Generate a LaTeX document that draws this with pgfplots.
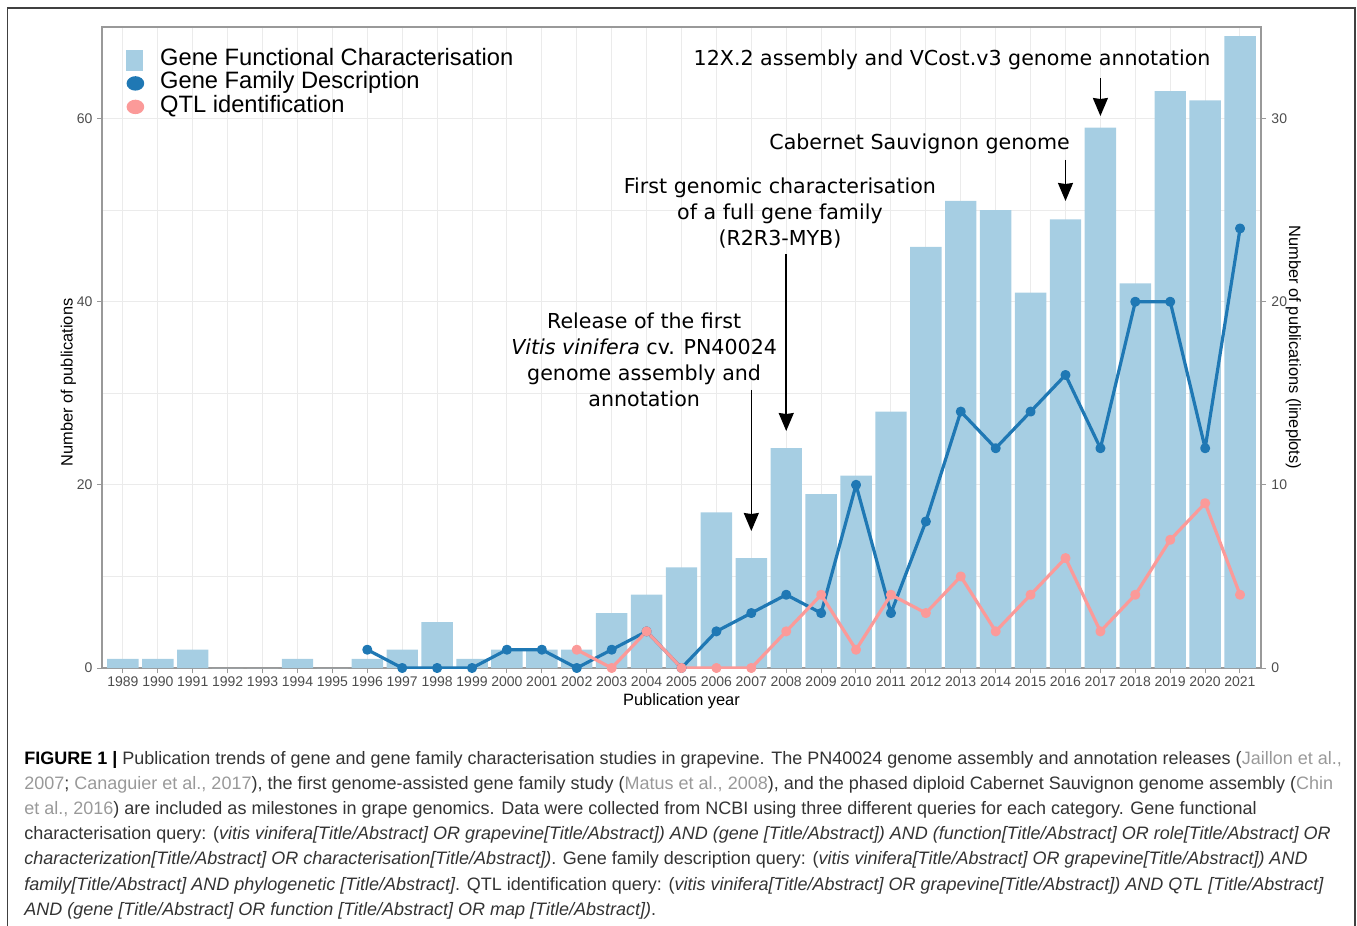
\documentclass[border=0pt]{standalone}
\usepackage{fontspec}
\setmainfont{Liberation Sans}
\newfontfamily\annfont{DejaVu Sans}
\usepackage{pgfplots}
\usepackage{pgfplotstable}
\pgfplotsset{compat=1.18}
\usetikzlibrary{arrows.meta}
\definecolor{barblue}{HTML}{A6CEE3}
\definecolor{lineblue}{HTML}{1F78B4}
\definecolor{linepink}{HTML}{FB9A99}
\definecolor{gridgray}{HTML}{EBEBEB}
\definecolor{ticktxt}{HTML}{4D4D4D}
\definecolor{axgray}{HTML}{999999}
\definecolor{capgray}{HTML}{333333}
\definecolor{citegray}{HTML}{999999}
\newcommand{\ct}[1]{\textcolor{citegray}{#1}}
\tikzset{
  anntext/.style={font=\annfont\fontsize{10.3}{13}\selectfont, align=center, inner sep=0pt},
  captxt/.style={anchor=base west, inner sep=0pt, font=\fontsize{9}{10}\selectfont, text=capgray},
  marr/.style={-{Stealth[length=9pt,width=7.5pt,inset=0.5pt]}, line width=0.8pt},
}

\pgfplotstableread{
year gfc
1989 1
1990 1
1991 2
1992 0
1993 0
1994 1
1995 0
1996 1
1997 2
1998 5
1999 1
2000 2
2001 2
2002 2
2003 6
2004 8
2005 11
2006 17
2007 12
2008 24
2009 19
2010 21
2011 28
2012 46
2013 51
2014 50
2015 41
2016 49
2017 59
2018 42
2019 63
2020 62
2021 69
}\barsdata

\pgfplotstableread{
year gfd
1996 1
1997 0
1998 0
1999 0
2000 1
2001 1
2002 0
2003 1
2004 2
2005 0
2006 2
2007 3
2008 4
2009 3
2010 10
2011 3
2012 8
2013 14
2014 12
2015 14
2016 16
2017 12
2018 20
2019 20
2020 12
2021 24
}\bluedata

\pgfplotstableread{
year qtl
2002 1
2003 0
2004 2
2005 0
2006 0
2007 0
2008 2
2009 4
2010 1
2011 4
2012 3
2013 5
2014 2
2015 4
2016 6
2017 2
2018 4
2019 7
2020 9
2021 4
}\pinkdata

\pgfplotsset{
  common/.style={
    at={(P)}, anchor=south west,
    width=579.5pt, height=320.5pt, scale only axis,
    xmin=1988.4, xmax=2021.6,
    tick align=outside, major tick length=2.5pt, minor tick length=0pt,
    tick style={axgray, line width=0.5pt},
    /pgf/number format/assume math mode=true,
    /pgf/number format/1000 sep={},
    tick label style={font=\fontsize{7}{8}\selectfont, text=ticktxt},
    label style={font=\fontsize{8.2}{9}\selectfont},
    axis line style={axgray, line width=0.6pt},
  }
}

\begin{document}
\begin{tikzpicture}[x=0.5pt, y=-0.5pt]
\useasboundingbox (0,0) rectangle (1357,926);
\draw[line width=0.7pt, black!75] (7.5,930) -- (7.5,8) -- (1355,8) -- (1355,930);
\coordinate (P) at (102,668);

\begin{axis}[common,
  ymin=0, ymax=70,
  xtick={1989,...,2021}, ytick={0,20,40,60}, minor ytick={10,30,50},
  xtick pos=bottom, ytick pos=left,
  grid=both,
  major grid style={gridgray, line width=0.5pt},
  minor grid style={gridgray, line width=0.3pt},
  xticklabel style={yshift=1.5pt},
  yticklabel style={xshift=1.2pt},
  xlabel={Publication year}, ylabel={Number of publications},
  xlabel style={yshift=3.5pt},
  ylabel style={yshift=-6.5pt, xshift=-17.5pt},
  clip=false,
]
\addplot[ybar, bar width=0.9, fill=barblue, draw=none] table[x=year, y=gfc] {\barsdata};

\draw[marr] (axis cs:2017,64.43) -- (axis cs:2017,60.28);
\draw[marr] (axis cs:2016,55.48) -- (axis cs:2016,51.0);
\draw[marr] (axis cs:2008,45.21) -- (axis cs:2008,25.88);
\draw[marr] (axis cs:2007,30.36) -- (axis cs:2007,14.96);

\node[anntext] at (axis cs:2012.75,66.4) {12X.2 assembly and VCost.v3 genome annotation};
\node[anntext] at (axis cs:2011.82,57.2) {Cabernet Sauvignon genome};
\node[anntext] at (axis cs:2007.82,49.7) {First genomic characterisation\\of a full gene family\\(R2R3-MYB)};
\node[anntext] at (axis cs:2003.93,33.69) {Release of the first\\\textit{Vitis vinifera} cv. PN40024\\genome assembly and\\annotation};
\end{axis}

\begin{axis}[common,
  ymin=0, ymax=35,
  axis x line=none, axis y line*=right,
  ytick={0,10,20,30},
  yticklabel style={xshift=-0.8pt},
  ylabel={Number of publications (lineplots)},
  ylabel style={rotate=180, yshift=-7.5pt},
  legend style={
    at={(axis description cs:0.0207,0.967)}, anchor=north west,
    draw=none, fill=none, inner sep=0pt, outer sep=0pt,
    font=\fontsize{11.85}{11.75}\selectfont,
    row sep=0pt, column sep=8pt,
    nodes={inner sep=0pt, text height=8.6pt, text depth=3.15pt},
    cells={anchor=west},
  },
]
\addlegendimage{legend image code/.code={\fill[barblue] (0pt,-5pt) rectangle (8pt,5pt);}}
\addlegendentry{Gene Functional Characterisation}
\addplot[lineblue, line width=1.6pt, line join=round, mark=*, mark size=1.7pt,
  legend image code/.code={\fill[lineblue] (4.5pt,0pt) ellipse[x radius=3.6pt, y radius=2.8pt];}]
  table[x=year, y=gfd] {\bluedata};
\addlegendentry{Gene Family Description}
\addplot[linepink, line width=1.6pt, line join=round, mark=*, mark size=1.7pt,
  legend image code/.code={\fill[linepink] (4.5pt,0pt) ellipse[x radius=3.6pt, y radius=2.8pt];}]
  table[x=year, y=qtl] {\pinkdata};
\addlegendentry{QTL identification}
\end{axis}

\node[captxt] at (24,764) {\textcolor{black}{\textbf{FIGURE 1 |}} Publication trends of gene and gene family characterisation studies in grapevine. The PN40024 genome assembly and annotation releases (\ct{Jaillon et al.,}};
\node[captxt] at (24,789) {\ct{2007}; \ct{Canaguier et al., 2017}), the first genome-assisted gene family study (\ct{Matus et al., 2008}), and the phased diploid Cabernet Sauvignon genome assembly (\ct{Chin}};
\node[captxt] at (24,814) {\ct{et al., 2016}) are included as milestones in grape genomics. Data were collected from NCBI using three different queries for each category. Gene functional};
\node[captxt] at (24,839) {characterisation query: (\textit{vitis vinifera[Title/Abstract] OR grapevine[Title/Abstract]) AND (gene [Title/Abstract]) AND (function[Title/Abstract] OR role[Title/Abstract] OR}};
\node[captxt] at (24,864) {\textit{characterization[Title/Abstract] OR characterisation[Title/Abstract])}. Gene family description query: (\textit{vitis vinifera[Title/Abstract] OR grapevine[Title/Abstract]) AND}};
\node[captxt] at (24,890) {\textit{family[Title/Abstract] AND phylogenetic [Title/Abstract]}. QTL identification query: (\textit{vitis vinifera[Title/Abstract] OR grapevine[Title/Abstract]) AND QTL [Title/Abstract]}};
\node[captxt] at (24,915) {\textit{AND (gene [Title/Abstract] OR function [Title/Abstract] OR map [Title/Abstract])}.};
\end{tikzpicture}
\end{document}
